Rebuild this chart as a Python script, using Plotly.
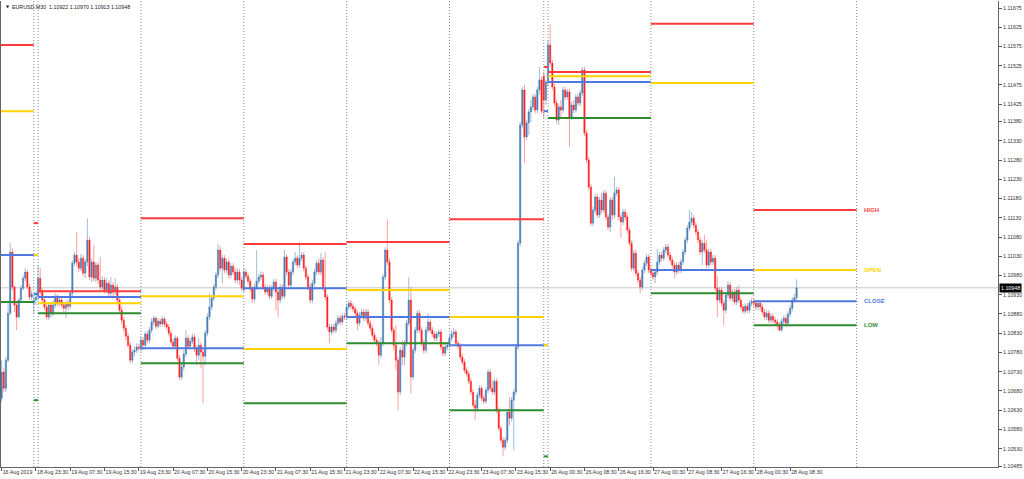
import pandas as pd
import plotly.graph_objects as go

# ---------------- data ----------------
symbol_title = "EURUSD,M30  1.10922 1.10970 1.10913 1.10948"
current_price = 1.10948

# trading sessions shown (first bar time, number of M30 bars visible)
session_starts = ["2019-08-16 14:30", "2019-08-18 23:00", "2019-08-19 00:00", "2019-08-20 00:00",
                  "2019-08-21 00:00", "2019-08-22 00:00", "2019-08-23 00:00", "2019-08-25 23:00",
                  "2019-08-26 00:00", "2019-08-27 00:00", "2019-08-28 00:00"]
session_bars = [15, 2, 48, 48, 48, 48, 44, 2, 48, 48, 21]
bars_per_full_day = 48

open_ = [
    # 16 Aug
    1.10661,1.10729,1.10687,1.10760,1.10882,1.11041,1.10950,1.10903,1.10872,1.10916,1.10947,1.10973,1.10989,1.10950,1.10924,
    # 18 Aug
    1.10908,1.10916,
    # 19 Aug
    1.10926,1.10973,1.10937,1.10916,1.10898,1.10872,1.10903,1.10880,1.10903,1.10926,1.10908,1.10916,1.10903,1.10895,1.10908,1.10900,
    1.10934,1.11012,1.11033,1.11015,1.10999,1.11025,1.10986,1.11015,1.11072,1.10976,1.11015,1.10973,1.11007,1.10968,1.10950,1.10968,
    1.10942,1.10960,1.10934,1.10955,1.10937,1.10950,1.10916,1.10890,1.10864,1.10843,1.10822,1.10799,1.10760,1.10781,1.10786,1.10794,
    # 20 Aug
    1.10789,1.10812,1.10799,1.10828,1.10812,1.10838,1.10859,1.10869,1.10848,1.10861,1.10854,1.10867,1.10854,1.10846,1.10830,1.10807,
    1.10796,1.10817,1.10765,1.10716,1.10742,1.10776,1.10817,1.10796,1.10809,1.10820,1.10789,1.10773,1.10799,1.10781,1.10770,1.10830,
    1.10872,1.10898,1.10921,1.10950,1.10981,1.11046,1.10999,1.11025,1.10994,1.11015,1.10981,1.11004,1.10989,1.10968,1.10989,1.10968,
    # 21 Aug
    1.10942,1.10989,1.10978,1.10965,1.10945,1.10919,1.10950,1.10965,1.10976,1.10981,1.10950,1.10937,1.10947,1.10926,1.10947,1.10963,
    1.10937,1.10916,1.10950,1.10926,1.11028,1.10989,1.10955,1.10989,1.11015,1.11025,1.11007,1.11025,1.11033,1.10999,1.10976,1.10950,
    1.10916,1.10960,1.10989,1.11012,1.10989,1.11020,1.10947,1.10924,1.10846,1.10833,1.10846,1.10838,1.10856,1.10869,1.10859,1.10874,
    # 22 Aug
    1.10872,1.10898,1.10908,1.10900,1.10893,1.10882,1.10856,1.10877,1.10885,1.10869,1.10885,1.10856,1.10843,1.10825,1.10812,1.10804,
    1.10773,1.10804,1.10976,1.11046,1.11015,1.10916,1.10838,1.10799,1.10760,1.10677,1.10786,1.10768,1.10804,1.10856,1.10916,1.10716,
    1.10786,1.10838,1.10882,1.10838,1.10804,1.10786,1.10838,1.10859,1.10838,1.10828,1.10817,1.10828,1.10833,1.10794,1.10778,1.10794,
    # 23 Aug
    1.10799,1.10817,1.10828,1.10833,1.10804,1.10796,1.10768,1.10755,1.10734,1.10724,1.10705,1.10677,1.10643,1.10635,1.10669,1.10687,
    1.10661,1.10653,1.10682,1.10729,1.10687,1.10677,1.10705,1.10630,1.10583,1.10552,1.10534,1.10552,1.10625,1.10609,1.10656,1.10677,
    1.10794,1.11064,1.11371,1.11462,1.11340,1.11376,1.11405,1.11418,1.11444,1.11410,1.11462,1.11488,
    # 25 Aug
    1.11498,1.11436,
    # 26 Aug
    1.11480,1.11579,1.11532,1.11470,1.11428,1.11384,1.11418,1.11410,1.11462,1.11444,1.11457,1.11392,1.11423,1.11410,1.11444,1.11428,
    1.11454,1.11514,1.11350,1.11280,1.11210,1.11116,1.11150,1.11184,1.11137,1.11176,1.11150,1.11194,1.11132,1.11106,1.11176,1.11137,
    1.11194,1.11202,1.11132,1.11119,1.11145,1.11132,1.11098,1.11064,1.10999,1.11038,1.10986,1.10968,1.10950,1.10994,1.11012,1.11028,
    # 27 Aug
    1.10994,1.10986,1.10976,1.10989,1.11015,1.11033,1.11025,1.11046,1.11054,1.11033,1.11020,1.11007,1.10989,1.11007,1.10994,1.11015,
    1.11041,1.11072,1.11103,1.11119,1.11129,1.11111,1.11093,1.11072,1.11041,1.11064,1.11046,1.11007,1.11041,1.11015,1.11025,1.10947,
    1.10916,1.10942,1.10908,1.10890,1.10929,1.10955,1.10921,1.10937,1.10911,1.10942,1.10916,1.10898,1.10887,1.10900,1.10890,1.10908,
    # 28 Aug
    1.10913,1.10908,1.10898,1.10908,1.10898,1.10885,1.10872,1.10882,1.10864,1.10874,1.10864,1.10859,1.10851,1.10838,1.10861,1.10869,
    1.10856,1.10880,1.10895,1.10916,1.10922,
]

high = [
    1.10760,1.10739,1.10768,1.10908,1.11064,1.11051,1.10955,1.10911,1.10921,1.10955,1.10981,1.10999,1.10994,1.10958,1.10942,
    1.10929,1.10939,
    1.11007,1.10999,1.10947,1.10924,1.10908,1.10911,1.10911,1.10916,1.10934,1.10932,1.10924,1.10921,1.10911,1.10916,1.10916,1.10942,
    1.11020,1.11041,1.11093,1.11025,1.11036,1.11033,1.11023,1.11129,1.11080,1.11025,1.11059,1.11015,1.11015,1.11028,1.10978,1.10976,
    1.10973,1.10968,1.10976,1.10963,1.10973,1.10958,1.10924,1.10900,1.10872,1.10851,1.10830,1.10807,1.10789,1.10796,1.10804,1.10802,
    1.10822,1.10820,1.10835,1.10835,1.10846,1.10869,1.10877,1.10874,1.10869,1.10869,1.10874,1.10872,1.10861,1.10854,1.10838,1.10815,
    1.10825,1.10822,1.10773,1.10750,1.10786,1.10838,1.10825,1.10817,1.10830,1.10828,1.10796,1.10817,1.10807,1.10791,1.10838,1.10882,
    1.10934,1.10929,1.10958,1.10989,1.11062,1.11056,1.11033,1.11033,1.11025,1.11023,1.11012,1.11012,1.10999,1.10999,1.10997,1.10976,
    1.10999,1.10997,1.10986,1.10973,1.10952,1.10958,1.11046,1.10984,1.10991,1.10989,1.10958,1.10955,1.10955,1.10955,1.10971,1.10971,
    1.10945,1.10958,1.10958,1.11046,1.11036,1.10997,1.10997,1.11023,1.11041,1.11033,1.11067,1.11041,1.11041,1.11007,1.10984,1.10958,
    1.10968,1.10997,1.11020,1.11025,1.11038,1.11028,1.11041,1.10932,1.10854,1.10854,1.10854,1.10864,1.10877,1.10877,1.10882,1.10882,
    1.10906,1.10916,1.10916,1.10908,1.10900,1.10890,1.10885,1.10893,1.10893,1.10893,1.10893,1.10864,1.10851,1.10833,1.10820,1.10812,
    1.10820,1.10984,1.11054,1.11126,1.11025,1.10924,1.10846,1.10851,1.10768,1.10794,1.10812,1.10812,1.10864,1.10976,1.10950,1.10794,
    1.10846,1.10890,1.10890,1.10846,1.10812,1.10846,1.10882,1.10867,1.10846,1.10835,1.10835,1.10841,1.10841,1.10802,1.10804,1.10807,
    1.10825,1.10838,1.10843,1.10841,1.10812,1.10804,1.10776,1.10763,1.10742,1.10731,1.10713,1.10685,1.10656,1.10677,1.10695,1.10695,
    1.10669,1.10690,1.10737,1.10737,1.10708,1.10713,1.10713,1.10638,1.10591,1.10560,1.10560,1.10633,1.10664,1.10664,1.10685,1.10802,
    1.11072,1.11379,1.11470,1.11475,1.11384,1.11413,1.11436,1.11452,1.11452,1.11470,1.11522,1.11496,
    1.11509,1.11488,
    1.11592,1.11634,1.11540,1.11478,1.11436,1.11426,1.11436,1.11470,1.11470,1.11465,1.11465,1.11431,1.11436,1.11452,1.11452,1.11462,
    1.11522,1.11522,1.11358,1.11288,1.11218,1.11158,1.11192,1.11192,1.11184,1.11194,1.11202,1.11202,1.11140,1.11184,1.11184,1.11236,
    1.11210,1.11210,1.11140,1.11153,1.11153,1.11140,1.11106,1.11072,1.11046,1.11046,1.10994,1.10976,1.11002,1.11020,1.11036,1.11036,
    1.11004,1.10994,1.10997,1.11049,1.11041,1.11041,1.11054,1.11062,1.11062,1.11041,1.11028,1.11015,1.11015,1.11015,1.11023,1.11049,
    1.11080,1.11111,1.11150,1.11145,1.11137,1.11119,1.11101,1.11080,1.11072,1.11085,1.11072,1.11049,1.11049,1.11033,1.11033,1.10978,
    1.10950,1.10950,1.10916,1.10937,1.10965,1.10963,1.10945,1.10945,1.10950,1.10955,1.10924,1.10906,1.10908,1.10908,1.10916,1.10921,
    1.10921,1.10916,1.10916,1.10916,1.10906,1.10893,1.10890,1.10890,1.10882,1.10882,1.10872,1.10867,1.10859,1.10869,1.10877,1.10877,
    1.10887,1.10903,1.10924,1.10932,1.10970,
]

low = [
    1.10651,1.10677,1.10677,1.10755,1.10877,1.10942,1.10885,1.10838,1.10869,1.10911,1.10942,1.10965,1.10945,1.10916,1.10916,
    1.10882,1.10903,
    1.10916,1.10929,1.10908,1.10890,1.10864,1.10864,1.10869,1.10874,1.10895,1.10900,1.10900,1.10895,1.10885,1.10869,1.10890,1.10893,
    1.10926,1.11004,1.11004,1.10989,1.10991,1.10978,1.10973,1.11004,1.10968,1.10963,1.10965,1.10963,1.10958,1.10942,1.10937,1.10934,
    1.10934,1.10926,1.10926,1.10921,1.10929,1.10908,1.10880,1.10854,1.10833,1.10812,1.10791,1.10752,1.10752,1.10770,1.10778,1.10783,
    1.10781,1.10786,1.10791,1.10804,1.10804,1.10830,1.10851,1.10841,1.10843,1.10846,1.10848,1.10846,1.10838,1.10822,1.10799,1.10789,
    1.10789,1.10757,1.10708,1.10708,1.10734,1.10768,1.10789,1.10789,1.10802,1.10781,1.10747,1.10760,1.10739,1.10648,1.10747,1.10822,
    1.10864,1.10890,1.10913,1.10942,1.10973,1.10991,1.10960,1.10986,1.10986,1.10973,1.10973,1.10981,1.10960,1.10960,1.10955,1.10939,
    1.10937,1.10971,1.10958,1.10937,1.10908,1.10911,1.10942,1.10958,1.10968,1.10942,1.10929,1.10929,1.10919,1.10919,1.10939,1.10890,
    1.10872,1.10908,1.10919,1.10919,1.10981,1.10947,1.10947,1.10981,1.11007,1.10999,1.10999,1.11017,1.10991,1.10968,1.10942,1.10908,
    1.10908,1.10952,1.10981,1.10981,1.10981,1.10939,1.10916,1.10838,1.10804,1.10825,1.10830,1.10830,1.10848,1.10851,1.10851,1.10864,
    1.10864,1.10890,1.10893,1.10885,1.10874,1.10838,1.10848,1.10869,1.10861,1.10861,1.10848,1.10835,1.10817,1.10804,1.10796,1.10747,
    1.10765,1.10796,1.10968,1.11007,1.10908,1.10830,1.10786,1.10734,1.10630,1.10669,1.10747,1.10747,1.10796,1.10848,1.10674,1.10708,
    1.10778,1.10830,1.10830,1.10796,1.10778,1.10778,1.10830,1.10830,1.10820,1.10809,1.10809,1.10820,1.10786,1.10770,1.10770,1.10786,
    1.10791,1.10809,1.10820,1.10796,1.10789,1.10760,1.10747,1.10726,1.10716,1.10698,1.10669,1.10635,1.10604,1.10627,1.10661,1.10653,
    1.10646,1.10646,1.10674,1.10679,1.10669,1.10669,1.10622,1.10575,1.10544,1.10510,1.10526,1.10544,1.10591,1.10601,1.10526,1.10669,
    1.10786,1.11056,1.11363,1.11272,1.11332,1.11345,1.11379,1.11410,1.11402,1.11402,1.11449,1.11400,
    1.11389,1.11423,
    1.11472,1.11524,1.11462,1.11420,1.11374,1.11371,1.11389,1.11402,1.11436,1.11436,1.11314,1.11384,1.11402,1.11402,1.11420,1.11420,
    1.11446,1.11342,1.11272,1.11202,1.11108,1.11108,1.11142,1.11129,1.11129,1.11142,1.11142,1.11124,1.11098,1.11093,1.11124,1.11129,
    1.11186,1.11124,1.11077,1.11111,1.11124,1.11090,1.11056,1.10991,1.10991,1.10978,1.10960,1.10934,1.10942,1.10986,1.11004,1.10986,
    1.10978,1.10968,1.10960,1.10981,1.11007,1.11017,1.11017,1.11038,1.11025,1.11012,1.10999,1.10973,1.10981,1.10986,1.10986,1.11007,
    1.11033,1.11064,1.11096,1.11111,1.11103,1.11085,1.11064,1.11033,1.11007,1.11038,1.10999,1.10999,1.11007,1.11007,1.10939,1.10872,
    1.10908,1.10900,1.10851,1.10882,1.10921,1.10913,1.10913,1.10903,1.10903,1.10908,1.10890,1.10880,1.10880,1.10882,1.10882,1.10900,
    1.10900,1.10890,1.10890,1.10890,1.10877,1.10864,1.10864,1.10856,1.10856,1.10856,1.10851,1.10843,1.10835,1.10835,1.10854,1.10848,
    1.10848,1.10872,1.10887,1.10911,1.10913,
]

close = [
    1.10729,1.10687,1.10760,1.10882,1.11041,1.10950,1.10903,1.10872,1.10916,1.10947,1.10973,1.10989,1.10950,1.10924,1.10932,
    1.10916,1.10924,
    1.10973,1.10937,1.10916,1.10898,1.10872,1.10903,1.10880,1.10903,1.10926,1.10908,1.10916,1.10903,1.10895,1.10908,1.10900,1.10934,
    1.11012,1.11033,1.11015,1.10999,1.11025,1.10986,1.11015,1.11072,1.10976,1.11015,1.10973,1.11007,1.10968,1.10950,1.10968,1.10942,
    1.10960,1.10934,1.10955,1.10937,1.10950,1.10916,1.10890,1.10864,1.10843,1.10822,1.10799,1.10760,1.10781,1.10786,1.10794,1.10791,
    1.10812,1.10799,1.10828,1.10812,1.10838,1.10859,1.10869,1.10848,1.10861,1.10854,1.10867,1.10854,1.10846,1.10830,1.10807,1.10796,
    1.10817,1.10765,1.10716,1.10742,1.10776,1.10817,1.10796,1.10809,1.10820,1.10789,1.10773,1.10799,1.10781,1.10770,1.10830,1.10872,
    1.10898,1.10921,1.10950,1.10981,1.11046,1.10999,1.11025,1.10994,1.11015,1.10981,1.11004,1.10989,1.10968,1.10989,1.10968,1.10947,
    1.10989,1.10978,1.10965,1.10945,1.10919,1.10950,1.10965,1.10976,1.10981,1.10950,1.10937,1.10947,1.10926,1.10947,1.10963,1.10937,
    1.10916,1.10950,1.10926,1.11028,1.10989,1.10955,1.10989,1.11015,1.11025,1.11007,1.11025,1.11033,1.10999,1.10976,1.10950,1.10916,
    1.10960,1.10989,1.11012,1.10989,1.11020,1.10947,1.10924,1.10846,1.10833,1.10846,1.10838,1.10856,1.10869,1.10859,1.10874,1.10872,
    1.10898,1.10908,1.10900,1.10893,1.10882,1.10856,1.10877,1.10885,1.10869,1.10885,1.10856,1.10843,1.10825,1.10812,1.10804,1.10773,
    1.10804,1.10976,1.11046,1.11015,1.10916,1.10838,1.10799,1.10760,1.10677,1.10786,1.10768,1.10804,1.10856,1.10916,1.10716,1.10786,
    1.10838,1.10882,1.10838,1.10804,1.10786,1.10838,1.10859,1.10838,1.10828,1.10817,1.10828,1.10833,1.10794,1.10778,1.10794,1.10799,
    1.10817,1.10828,1.10833,1.10804,1.10796,1.10768,1.10755,1.10734,1.10724,1.10705,1.10677,1.10643,1.10635,1.10669,1.10687,1.10661,
    1.10653,1.10682,1.10729,1.10687,1.10677,1.10705,1.10630,1.10583,1.10552,1.10534,1.10552,1.10625,1.10609,1.10656,1.10677,1.10794,
    1.11064,1.11371,1.11462,1.11340,1.11376,1.11405,1.11418,1.11444,1.11410,1.11462,1.11488,1.11407,
    1.11436,1.11483,
    1.11579,1.11532,1.11470,1.11428,1.11384,1.11418,1.11410,1.11462,1.11444,1.11457,1.11392,1.11423,1.11410,1.11444,1.11428,1.11454,
    1.11514,1.11350,1.11280,1.11210,1.11116,1.11150,1.11184,1.11137,1.11176,1.11150,1.11194,1.11132,1.11106,1.11176,1.11137,1.11194,
    1.11202,1.11132,1.11119,1.11145,1.11132,1.11098,1.11064,1.10999,1.11038,1.10986,1.10968,1.10950,1.10994,1.11012,1.11028,1.10994,
    1.10986,1.10976,1.10989,1.11015,1.11033,1.11025,1.11046,1.11054,1.11033,1.11020,1.11007,1.10989,1.11007,1.10994,1.11015,1.11041,
    1.11072,1.11103,1.11119,1.11129,1.11111,1.11093,1.11072,1.11041,1.11064,1.11046,1.11007,1.11041,1.11015,1.11025,1.10947,1.10916,
    1.10942,1.10908,1.10890,1.10929,1.10955,1.10921,1.10937,1.10911,1.10942,1.10916,1.10898,1.10887,1.10900,1.10890,1.10908,1.10913,
    1.10908,1.10898,1.10908,1.10898,1.10885,1.10872,1.10882,1.10864,1.10874,1.10864,1.10859,1.10851,1.10838,1.10861,1.10869,1.10856,
    1.10880,1.10895,1.10916,1.10922,1.10948,
]

# previous-day levels drawn over each session (high, open, close, low)
prev_high = [1.11579, 1.11116, 1.10939, 1.11129, 1.11062, 1.11067, 1.11126, 1.11522, 1.11509, 1.11634, 1.11150]
prev_open = [1.11407, 1.11033, 1.10908, 1.10926, 1.10789, 1.10942, 1.10872, 1.10799, 1.11498, 1.11480, 1.10994]
prev_close = [1.11033, 1.10932, 1.10924, 1.10791, 1.10947, 1.10872, 1.10799, 1.11407, 1.11483, 1.10994, 1.10913]
prev_low = [1.10911, 1.10656, 1.10882, 1.10752, 1.10648, 1.10804, 1.10630, 1.10510, 1.11389, 1.10934, 1.10851]

x_tick_times = ["2019-08-16 14:30", "2019-08-18 23:30", "2019-08-19 07:30", "2019-08-19 15:30",
                "2019-08-19 23:30", "2019-08-20 07:30", "2019-08-20 15:30", "2019-08-20 23:30",
                "2019-08-21 07:30", "2019-08-21 15:30", "2019-08-21 23:30", "2019-08-22 07:30",
                "2019-08-22 15:30", "2019-08-22 23:30", "2019-08-23 07:30", "2019-08-23 15:30",
                "2019-08-26 00:30", "2019-08-26 08:30", "2019-08-26 16:30", "2019-08-27 00:30",
                "2019-08-27 08:30", "2019-08-27 16:30", "2019-08-28 00:30", "2019-08-28 08:30"]
x_tick_text = ["16 Aug 2019", "18 Aug 23:30", "19 Aug 07:30", "19 Aug 15:30", "19 Aug 23:30",
               "20 Aug 07:30", "20 Aug 15:30", "20 Aug 23:30", "21 Aug 07:30", "21 Aug 15:30",
               "21 Aug 23:30", "22 Aug 07:30", "22 Aug 15:30", "22 Aug 23:30", "23 Aug 07:30",
               "23 Aug 15:30", "26 Aug 00:30", "26 Aug 08:30", "26 Aug 16:30", "27 Aug 00:30",
               "27 Aug 08:30", "27 Aug 16:30", "28 Aug 00:30", "28 Aug 08:30"]
y_tick_text = ["1.11675", "1.11625", "1.11575", "1.11525", "1.11475", "1.11425", "1.11380",
               "1.11330", "1.11280", "1.11230", "1.11180", "1.11130", "1.11080", "1.11030",
               "1.10980", "1.10930", "1.10880", "1.10830", "1.10780", "1.10730", "1.10680",
               "1.10630", "1.10580", "1.10530", "1.10485"]

# ---------------- build bar index ----------------
times, first_idx = [], []
for start, n in zip(session_starts, session_bars):
    first_idx.append(len(times))
    t0 = pd.Timestamp(start)
    times.extend(t0 + pd.Timedelta(minutes=30 * k) for k in range(n))
n_bars = len(times)
assert len(open_) == len(high) == len(low) == len(close) == n_bars, (len(open_), len(high), len(low), len(close), n_bars)
xs = list(range(n_bars))
tick_vals = [times.index(pd.Timestamp(t)) for t in x_tick_times]

X_MIN, X_MAX = -0.3, 465.0
Y_MIN, Y_MAX = 1.104824, 1.116932

day_ends = first_idx[1:] + [first_idx[-1] + bars_per_full_day]
seg_starts = [X_MIN] + first_idx[1:]

fig = go.Figure()
fig.add_trace(go.Candlestick(
    x=xs, open=open_, high=high, low=low, close=close,
    increasing=dict(line=dict(color="rgba(70,125,180,0.5)", width=1), fillcolor="#4a7db4"),
    decreasing=dict(line=dict(color="rgba(255,40,40,0.45)", width=1), fillcolor="#ff1e1e"),
    whiskerwidth=0, hoverinfo="skip", showlegend=False,
))

level_sets = [(prev_high, "#ff3b3b", "HIGH"), (prev_open, "#ffd200", "OPEN"),
              (prev_close, "#5078e0", "CLOSE"), (prev_low, "#2e8b2e", "LOW")]
for levels, color, name in level_sets:
    lx, ly = [], []
    for s, e, v in zip(seg_starts, day_ends, levels):
        lx += [s, e, None]
        ly += [v, v, None]
    fig.add_trace(go.Scatter(x=lx, y=ly, mode="lines", line=dict(color=color, width=2),
                             hoverinfo="skip", showlegend=False))
    fig.add_annotation(x=day_ends[-1] + 2.6, y=levels[-1], xref="x", yref="y",
                       text=f"<b>{name}</b>", showarrow=False, xanchor="left", yanchor="middle",
                       font=dict(family="Liberation Sans", size=6, color=color))

shapes = []
for b in day_ends:
    shapes.append(dict(type="line", xref="x", yref="paper", x0=b, x1=b, y0=0, y1=1,
                       line=dict(color="#8a8a8a", width=1, dash="1px,2px"), layer="below"))
shapes.append(dict(type="line", xref="paper", yref="y", x0=0, x1=1, y0=current_price, y1=current_price,
                   line=dict(color="#c8c8c8", width=1), layer="below"))

fig.add_annotation(x=1, y=current_price, xref="paper", yref="y", text=f"{current_price:.5f}",
                   showarrow=False, xanchor="left", yanchor="middle", xshift=1,
                   bgcolor="#000000", borderpad=1,
                   font=dict(family="Liberation Sans", size=5.3, color="#ffffff"))
fig.add_annotation(x=0.003, y=0.988, xref="paper", yref="paper", text="\u25bc", showarrow=False,
                   xanchor="left", yanchor="middle", font=dict(family="DejaVu Sans", size=4, color="#222"))
fig.add_annotation(x=0.009, y=0.988, xref="paper", yref="paper", text=symbol_title, showarrow=False,
                   xanchor="left", yanchor="middle", font=dict(family="Liberation Sans", size=5.3, color="#222"))

fig.update_layout(
    width=1024, height=479,
    margin=dict(l=1, r=26, t=1, b=12),
    paper_bgcolor="white", plot_bgcolor="white",
    shapes=shapes, showlegend=False, hovermode=False, boxgap=0.12,
    xaxis=dict(range=[X_MIN, X_MAX], tickmode="array", tickvals=tick_vals, ticktext=x_tick_text,
               ticks="outside", ticklen=3, tickcolor="#555", tickangle=0,
               ticklabelposition="outside right",
               tickfont=dict(family="Liberation Sans", size=5.3, color="#333"),
               showgrid=False, zeroline=False, showline=True, linecolor="#666", linewidth=1,
               rangeslider=dict(visible=False), fixedrange=True),
    yaxis=dict(range=[Y_MIN, Y_MAX], side="right", tickmode="array",
               tickvals=[float(t) for t in y_tick_text], ticktext=y_tick_text,
               ticks="outside", ticklen=3, tickcolor="#555",
               tickfont=dict(family="Liberation Sans", size=5.3, color="#333"),
               showgrid=False, zeroline=False, showline=True, linecolor="#666", linewidth=1,
               mirror=True, fixedrange=True),
)

fig.write_html("out.html", config={"displayModeBar": False},
               post_script="document.body.style.margin='0px';document.body.style.padding='0px';")
